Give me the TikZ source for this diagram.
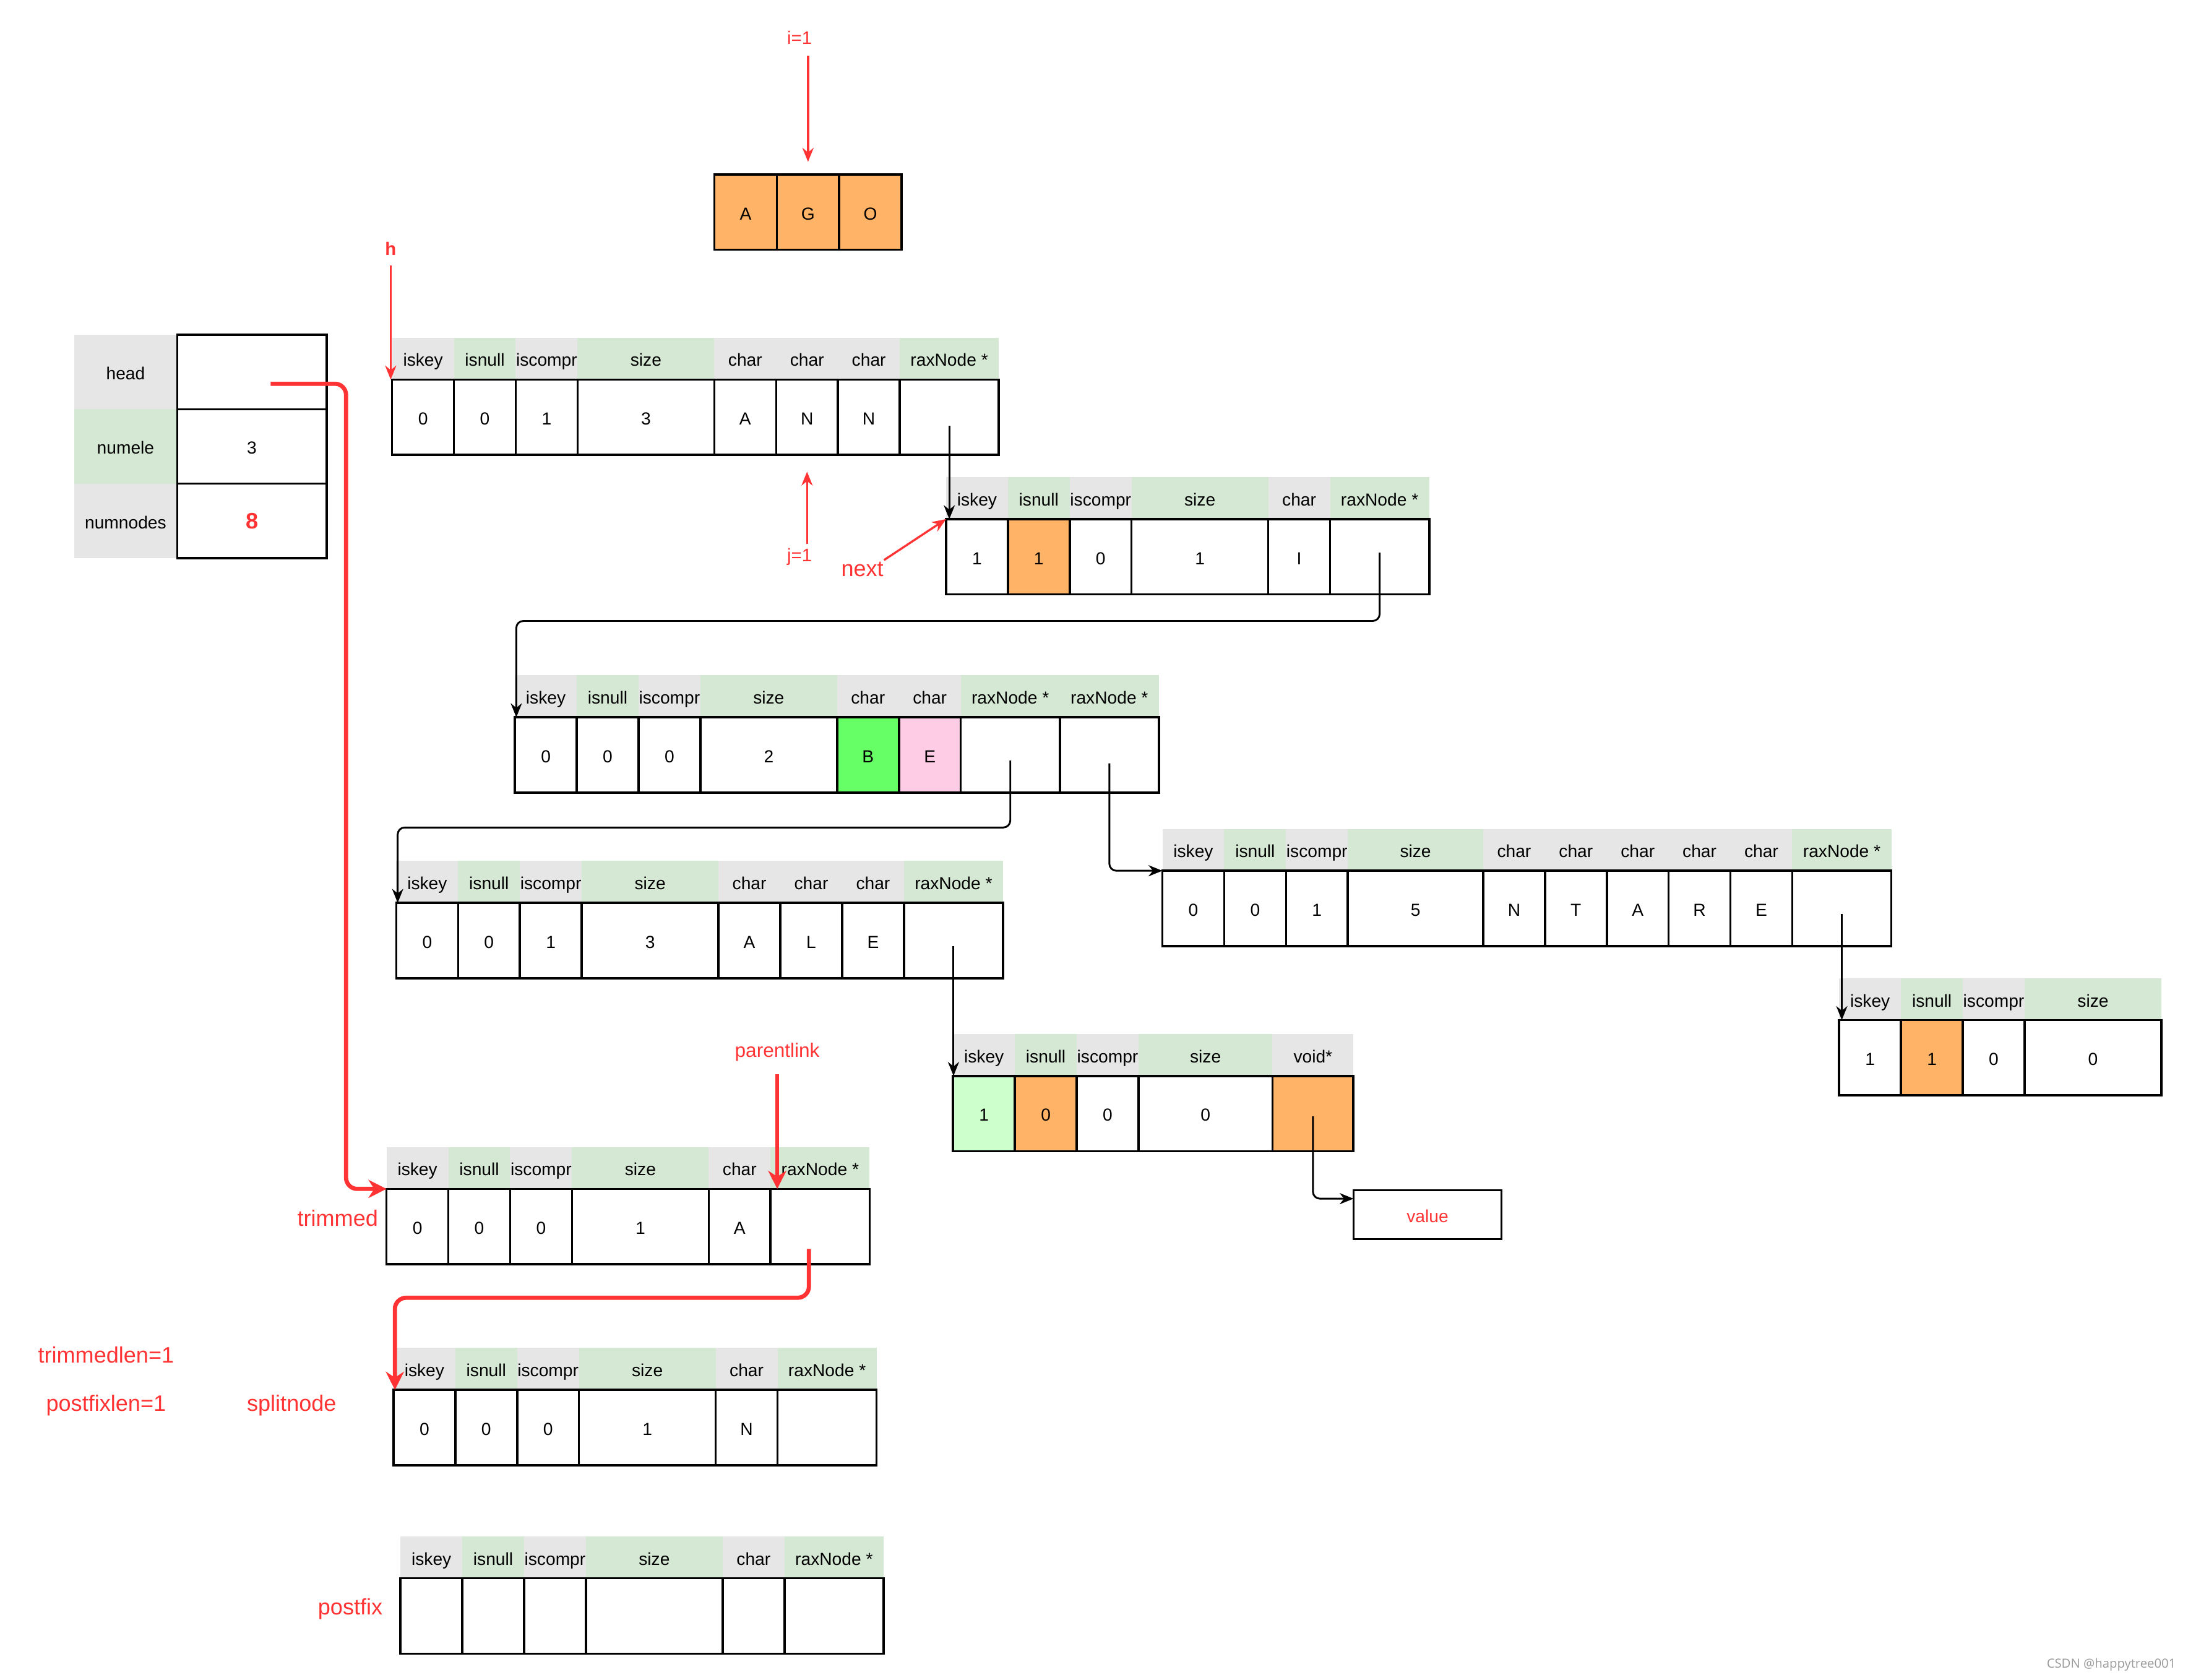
\documentclass[tikz,border=0pt]{standalone}
\usepackage{fontspec}
\setmainfont{Liberation Sans}
\newfontfamily\markfont{Open Sans}
\usepackage{xcolor}
\usepackage{tikz}
\usetikzlibrary{positioning,arrows.meta}
\definecolor{hdgrey}{HTML}{E6E6E6}
\definecolor{hdgreen}{HTML}{D5E8D4}
\definecolor{orng}{HTML}{FFB366}
\definecolor{bgreen}{HTML}{66FF66}
\definecolor{epink}{HTML}{FFCCE6}
\definecolor{kgreen}{HTML}{CCFFCC}
\definecolor{redc}{HTML}{FF3333}
\tikzset{every picture/.style={line width=0.75pt}}

\begin{document}
\begin{tikzpicture}[x=1pt,y=-1pt,
  fld/.style={inner sep=0pt,outer sep=0pt,minimum width=44.3,text height=11.5pt,text depth=0.5pt,font=\fontsize{12.5}{14}\selectfont},
  hg/.style={fld,fill=hdgrey,minimum height=30},
  hn/.style={fld,fill=hdgreen,minimum height=30},
  cell/.style={fld,draw,line width=1.6pt,minimum height=54},
  sizew/.style={minimum width=98},
  ptrw/.style={minimum width=71},
  note/.style={text=redc,inner sep=1pt,font=\fontsize{16}{18}\selectfont},
  smallnote/.style={text=redc,inner sep=1pt,font=\fontsize{13}{15}\selectfont},
  link/.style={draw,line width=1.3pt,rounded corners=5,-{Stealth[length=10pt,width=8pt]}},
  redlink/.style={draw=redc,line width=1.5pt,-{Stealth[length=10pt,width=8pt]}},
  boldlink/.style={draw=redc,line width=3pt,rounded corners=8,-{Stealth[length=13pt,width=13pt]}},
]
\useasboundingbox (0,0) rectangle (1568,1203.5);
%
\node[smallnote] (i1) at (573,27) {i=1};
\node[cell,fill=orng,minimum width=44.7,anchor=north west] (ago-1) at (512,125) {A};
\node[cell,fill=orng,minimum width=44.7,right=0pt of ago-1] (ago-2) {G};
\node[cell,fill=orng,minimum width=44.7,right=0pt of ago-2] (ago-3) {O};
%
\node[fld,fill=hdgrey,minimum width=74,minimum height=53.3,anchor=north west] (rax-h1) at (53,240) {head};
\node[fld,fill=hdgreen,minimum width=74,minimum height=53.3,below=0pt of rax-h1] (rax-h2) {numele};
\node[fld,fill=hdgrey,minimum width=74,minimum height=53.3,below=0pt of rax-h2] (rax-h3) {numnodes};
\node[cell,minimum width=107,minimum height=53.3,right=0pt of rax-h1] (rax-1) {};
\node[cell,minimum width=107,minimum height=53.3,right=0pt of rax-h2] (rax-2) {3};
\node[cell,minimum width=107,minimum height=53.3,right=0pt of rax-h3,text=redc,font=\fontsize{16}{18}\selectfont\bfseries] (rax-3) {8};
%
\node[smallnote,font=\fontsize{13}{15}\selectfont\bfseries] (h) at (280,178) {h};
\node[hg,anchor=north west] (ann-h1) at (281,242) {iskey};
\node[hn,right=0pt of ann-h1] (ann-h2) {isnull};
\node[hg,right=0pt of ann-h2] (ann-h3) {iscompr};
\node[hn,sizew,right=0pt of ann-h3] (ann-h4) {size};
\node[hg,right=0pt of ann-h4] (ann-h5) {char};
\node[hg,right=0pt of ann-h5] (ann-h6) {char};
\node[hg,right=0pt of ann-h6] (ann-h7) {char};
\node[hn,ptrw,right=0pt of ann-h7] (ann-h8) {raxNode *};
\node[cell,below=0pt of ann-h1] (ann-1) {0};
\node[cell,below=0pt of ann-h2] (ann-2) {0};
\node[cell,below=0pt of ann-h3] (ann-3) {1};
\node[cell,sizew,below=0pt of ann-h4] (ann-4) {3};
\node[cell,below=0pt of ann-h5] (ann-5) {A};
\node[cell,below=0pt of ann-h6] (ann-6) {N};
\node[cell,below=0pt of ann-h7] (ann-7) {N};
\node[cell,ptrw,below=0pt of ann-h8] (ann-8) {};
%
\node[smallnote] (j1) at (573,399) {j=1};
\node[note] (nx) at (618,408) {next};
\node[hg,anchor=north west] (i-h1) at (678,342) {iskey};
\node[hn,right=0pt of i-h1] (i-h2) {isnull};
\node[hg,right=0pt of i-h2] (i-h3) {iscompr};
\node[hn,sizew,right=0pt of i-h3] (i-h4) {size};
\node[hg,right=0pt of i-h4] (i-h5) {char};
\node[hn,ptrw,right=0pt of i-h5] (i-h6) {raxNode *};
\node[cell,below=0pt of i-h1] (i-1) {1};
\node[cell,fill=orng,below=0pt of i-h2] (i-2) {1};
\node[cell,below=0pt of i-h3] (i-3) {0};
\node[cell,sizew,below=0pt of i-h4] (i-4) {1};
\node[cell,below=0pt of i-h5] (i-5) {I};
\node[cell,ptrw,below=0pt of i-h6] (i-6) {};
%
\node[hg,anchor=north west] (be-h1) at (369,484) {iskey};
\node[hn,right=0pt of be-h1] (be-h2) {isnull};
\node[hg,right=0pt of be-h2] (be-h3) {iscompr};
\node[hn,sizew,right=0pt of be-h3] (be-h4) {size};
\node[hg,right=0pt of be-h4] (be-h5) {char};
\node[hg,right=0pt of be-h5] (be-h6) {char};
\node[hn,ptrw,right=0pt of be-h6] (be-h7) {raxNode *};
\node[hn,ptrw,right=0pt of be-h7] (be-h8) {raxNode *};
\node[cell,below=0pt of be-h1] (be-1) {0};
\node[cell,below=0pt of be-h2] (be-2) {0};
\node[cell,below=0pt of be-h3] (be-3) {0};
\node[cell,sizew,below=0pt of be-h4] (be-4) {2};
\node[cell,fill=bgreen,below=0pt of be-h5] (be-5) {B};
\node[cell,fill=epink,below=0pt of be-h6] (be-6) {E};
\node[cell,ptrw,below=0pt of be-h7] (be-7) {};
\node[cell,ptrw,below=0pt of be-h8] (be-8) {};
%
\node[hg,anchor=north west] (ale-h1) at (284,617) {iskey};
\node[hn,right=0pt of ale-h1] (ale-h2) {isnull};
\node[hg,right=0pt of ale-h2] (ale-h3) {iscompr};
\node[hn,sizew,right=0pt of ale-h3] (ale-h4) {size};
\node[hg,right=0pt of ale-h4] (ale-h5) {char};
\node[hg,right=0pt of ale-h5] (ale-h6) {char};
\node[hg,right=0pt of ale-h6] (ale-h7) {char};
\node[hn,ptrw,right=0pt of ale-h7] (ale-h8) {raxNode *};
\node[cell,below=0pt of ale-h1] (ale-1) {0};
\node[cell,below=0pt of ale-h2] (ale-2) {0};
\node[cell,below=0pt of ale-h3] (ale-3) {1};
\node[cell,sizew,below=0pt of ale-h4] (ale-4) {3};
\node[cell,below=0pt of ale-h5] (ale-5) {A};
\node[cell,below=0pt of ale-h6] (ale-6) {L};
\node[cell,below=0pt of ale-h7] (ale-7) {E};
\node[cell,ptrw,below=0pt of ale-h8] (ale-8) {};
%
\node[hg,anchor=north west] (ntare-h1) at (833,594) {iskey};
\node[hn,right=0pt of ntare-h1] (ntare-h2) {isnull};
\node[hg,right=0pt of ntare-h2] (ntare-h3) {iscompr};
\node[hn,minimum width=97,right=0pt of ntare-h3] (ntare-h4) {size};
\node[hg,right=0pt of ntare-h4] (ntare-h5) {char};
\node[hg,right=0pt of ntare-h5] (ntare-h6) {char};
\node[hg,right=0pt of ntare-h6] (ntare-h7) {char};
\node[hg,right=0pt of ntare-h7] (ntare-h8) {char};
\node[hg,right=0pt of ntare-h8] (ntare-h9) {char};
\node[hn,ptrw,right=0pt of ntare-h9] (ntare-h10) {raxNode *};
\node[cell,below=0pt of ntare-h1] (ntare-1) {0};
\node[cell,below=0pt of ntare-h2] (ntare-2) {0};
\node[cell,below=0pt of ntare-h3] (ntare-3) {1};
\node[cell,minimum width=97,below=0pt of ntare-h4] (ntare-4) {5};
\node[cell,below=0pt of ntare-h5] (ntare-5) {N};
\node[cell,below=0pt of ntare-h6] (ntare-6) {T};
\node[cell,below=0pt of ntare-h7] (ntare-7) {A};
\node[cell,below=0pt of ntare-h8] (ntare-8) {R};
\node[cell,below=0pt of ntare-h9] (ntare-9) {E};
\node[cell,ptrw,below=0pt of ntare-h10] (ntare-10) {};
%
\node[hg,anchor=north west] (leaf2-h1) at (1318,701) {iskey};
\node[hn,right=0pt of leaf2-h1] (leaf2-h2) {isnull};
\node[hg,right=0pt of leaf2-h2] (leaf2-h3) {iscompr};
\node[hn,sizew,right=0pt of leaf2-h3] (leaf2-h4) {size};
\node[cell,below=0pt of leaf2-h1] (leaf2-1) {1};
\node[cell,fill=orng,below=0pt of leaf2-h2] (leaf2-2) {1};
\node[cell,below=0pt of leaf2-h3] (leaf2-3) {0};
\node[cell,sizew,below=0pt of leaf2-h4] (leaf2-4) {0};
%
\node[hg,anchor=north west] (leaf-h1) at (683,741) {iskey};
\node[hn,right=0pt of leaf-h1] (leaf-h2) {isnull};
\node[hg,right=0pt of leaf-h2] (leaf-h3) {iscompr};
\node[hn,minimum width=96,right=0pt of leaf-h3] (leaf-h4) {size};
\node[hg,minimum width=58,right=0pt of leaf-h4] (leaf-h5) {void*};
\node[cell,fill=kgreen,below=0pt of leaf-h1] (leaf-1) {1};
\node[cell,fill=orng,below=0pt of leaf-h2] (leaf-2) {0};
\node[cell,below=0pt of leaf-h3] (leaf-3) {0};
\node[cell,minimum width=96,below=0pt of leaf-h4] (leaf-4) {0};
\node[cell,fill=orng,minimum width=58,below=0pt of leaf-h5] (leaf-5) {};
\node[cell,text=redc,minimum width=106,minimum height=35,anchor=north west] (val) at (970,853) {value};
%
\node[smallnote,font=\fontsize{14}{16}\selectfont] (pl) at (557,754) {parentlink};
\node[note] (trl) at (242,873) {trimmed};
\node[hg,anchor=north west] (trim-h1) at (277,822) {iskey};
\node[hn,right=0pt of trim-h1] (trim-h2) {isnull};
\node[hg,right=0pt of trim-h2] (trim-h3) {iscompr};
\node[hn,sizew,right=0pt of trim-h3] (trim-h4) {size};
\node[hg,right=0pt of trim-h4] (trim-h5) {char};
\node[hn,ptrw,right=0pt of trim-h5] (trim-h6) {raxNode *};
\node[cell,below=0pt of trim-h1] (trim-1) {0};
\node[cell,below=0pt of trim-h2] (trim-2) {0};
\node[cell,below=0pt of trim-h3] (trim-3) {0};
\node[cell,sizew,below=0pt of trim-h4] (trim-4) {1};
\node[cell,below=0pt of trim-h5] (trim-5) {A};
\node[cell,ptrw,below=0pt of trim-h6] (trim-6) {};
%
\node[note] (tlen) at (76,971) {trimmedlen=1};
\node[note] (plen) at (76,1007) {postfixlen=1};
\node[note] (spl) at (209,1007) {splitnode};
\node[hg,anchor=north west] (split-h1) at (282,966) {iskey};
\node[hn,right=0pt of split-h1] (split-h2) {isnull};
\node[hg,right=0pt of split-h2] (split-h3) {iscompr};
\node[hn,sizew,right=0pt of split-h3] (split-h4) {size};
\node[hg,right=0pt of split-h4] (split-h5) {char};
\node[hn,ptrw,right=0pt of split-h5] (split-h6) {raxNode *};
\node[cell,below=0pt of split-h1] (split-1) {0};
\node[cell,below=0pt of split-h2] (split-2) {0};
\node[cell,below=0pt of split-h3] (split-3) {0};
\node[cell,sizew,below=0pt of split-h4] (split-4) {1};
\node[cell,below=0pt of split-h5] (split-5) {N};
\node[cell,ptrw,below=0pt of split-h6] (split-6) {};
%
\node[note] (pfx) at (251,1153) {postfix};
\node[hg,anchor=north west] (post-h1) at (287,1101) {iskey};
\node[hn,right=0pt of post-h1] (post-h2) {isnull};
\node[hg,right=0pt of post-h2] (post-h3) {iscompr};
\node[hn,sizew,right=0pt of post-h3] (post-h4) {size};
\node[hg,right=0pt of post-h4] (post-h5) {char};
\node[hn,ptrw,right=0pt of post-h5] (post-h6) {raxNode *};
\node[cell,below=0pt of post-h1] (post-1) {};
\node[cell,below=0pt of post-h2] (post-2) {};
\node[cell,below=0pt of post-h3] (post-3) {};
\node[cell,sizew,below=0pt of post-h4] (post-4) {};
\node[cell,below=0pt of post-h5] (post-5) {};
\node[cell,ptrw,below=0pt of post-h6] (post-6) {};
%
\node[text=black!40,anchor=east,font=\markfont\fontsize{9}{10}\selectfont] (mark) at (1563,1193) {CSDN @happytree001};
%
\draw[link] ([yshift=-6pt]ann-8.center) -- (ann-8.center |- i-1.north);
\draw[link] ([yshift=3pt]i-6.center) -- ++(0,49) -| ([xshift=1pt]be-1.north west);
\draw[link] ([yshift=-4pt]be-7.center) -- ++(0,48) -| ([xshift=1pt]ale-1.north west);
\draw[link] ([yshift=-6pt]be-8.center) |- (ntare-1.north west);
\draw[link] ([yshift=-4pt]ntare-10.center) -- (ntare-10.center |- leaf2-1.north);
\draw[link] ([yshift=-4pt]ale-8.center) -- (ale-8.center |- leaf-1.north);
\draw[link] ([yshift=-2pt]leaf-5.center) |- ([yshift=11.5pt]val.west);
%
\coordinate (hd) at (194,275);
\draw[boldlink] (hd) -- ++(54,0) |- (trim-1.north west);
\draw[boldlink,shorten <=8pt] (pl.south) -- (pl.south |- trim-6.north);
\draw[boldlink] ([xshift=-8pt,yshift=-16pt]trim-6.center) -- ++(0,35) -| ([xshift=1pt]split-1.north west);
\draw[redlink,shorten <=6pt] (h.south) -- (h.south |- ann-1.north west);
\draw[redlink,shorten <=7pt,shorten >=9pt] (ago-2.north |- i1.south) -- (ago-2.north);
\draw[redlink,shorten <=2pt,shorten >=12pt] (ann-6.south |- j1.north) -- (ann-6.south);
\draw[redlink] ([xshift=-1pt]nx.north east) -- (i-1.north west);
\end{tikzpicture}
\end{document}
